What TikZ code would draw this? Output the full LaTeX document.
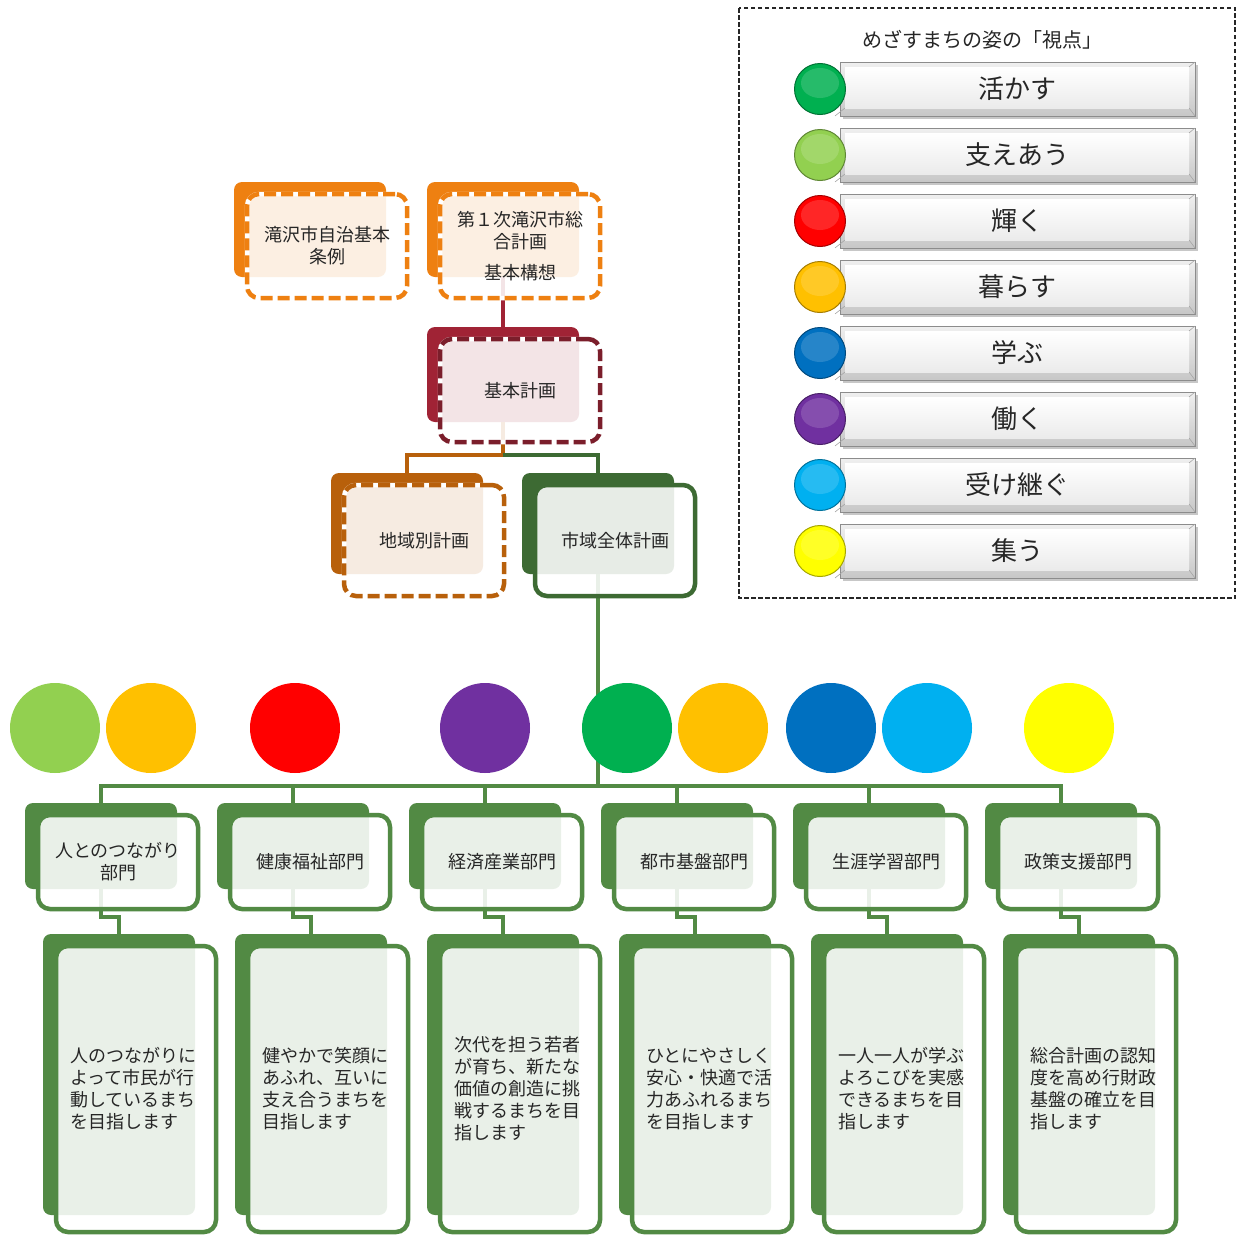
\documentclass[tikz,border=0pt]{standalone}
\usepackage{fontspec}
\setmainfont{Noto Sans CJK JP}
\definecolor{txt}{HTML}{262626}
\definecolor{oback}{HTML}{EE8011}
\definecolor{rback}{HTML}{A02335}
\definecolor{rline}{HTML}{7B1E2B}
\definecolor{bback}{HTML}{B8600B}
\definecolor{gback}{HTML}{3D6A33}
\definecolor{kback}{HTML}{528A44}
\definecolor{cLG}{HTML}{92D050}
\definecolor{cAM}{HTML}{FFC000}
\definecolor{cRD}{HTML}{FF0000}
\definecolor{cPU}{HTML}{7030A0}
\definecolor{cGR}{HTML}{00B050}
\definecolor{cBL}{HTML}{0070C0}
\definecolor{cCY}{HTML}{00B0F0}
\definecolor{cYE}{HTML}{FFFF00}
\newcommand\mf{\fontsize{18}{22}\selectfont}
\newcommand\lf{\fontsize{26}{28}\selectfont}
\tikzset{
  backbox/.style={rounded corners=8pt, minimum width=152pt, inner sep=0pt, outer sep=0pt},
  frontbox/.style={rounded corners=12pt, minimum width=160pt, inner sep=0pt, line width=4.5pt,
    fill=white, fill opacity=0.88, text opacity=1, align=center, font=\mf, text=txt},
  dashedline/.style={dash pattern=on 12pt off 5pt, preaction={draw=white, solid, line width=4.5pt}},
  solidline/.style={},
  conn/.style={line width=4pt},
}
\newcommand\mkback[5]{\node[backbox, fill=#5, minimum height=#4pt] (#1) at ({#2+76},{#3+#4/2}) {};}
\newcommand\mkfront[8]{\node[frontbox, draw=#5, #6, minimum height=#4pt, #7] (#1) at ({#2+93},{#3+12+#4/2}) {#8};}
\begin{document}
\begin{tikzpicture}[x=1pt,y=-1pt]
\fill[white] (0,0) rectangle (1239,1234);
\useasboundingbox (0,0) rectangle (1239,1234);

% ---------- back shapes ----------
\mkback{b1b}{234}{182}{95}{oback}
\mkback{b2b}{427}{182}{95}{oback}
\mkback{rb}{427}{327}{95}{rback}
\mkback{lb}{331}{473}{101}{bback}
\mkback{sb}{522}{473}{101}{gback}
\foreach \i in {1,...,6}{
  \mkback{d\i b}{25+192*(\i-1)}{803}{86}{kback}
  \mkback{t\i b}{43+192*(\i-1)}{934}{281}{kback}
}

% ---------- connectors ----------
\coordinate (bus) at (598,786);
\draw[conn, rback] (b2b.south) -- (rb.north);
\draw[conn, bback] (rb.south) -- ++(0,33) -| (lb.north);
\draw[conn, gback] (rb.south) ++(0,33) -| (sb.north);
\draw[conn, kback] (sb.south) -- (sb.south |- bus);
\draw[conn, kback] (d1b.north) -- (d1b.north |- bus) -- (d6b.north |- bus) -- (d6b.north);
\foreach \i in {2,...,5}{\draw[conn, kback] (d\i b.north |- bus) -- (d\i b.north);}
\foreach \i in {1,...,6}{\draw[conn, kback] (d\i b.south) -- ++(0,28) -| (t\i b.north);}

% ---------- front shapes ----------
\mkfront{b1}{234}{182}{104}{oback}{dashedline}{}{滝沢市自治基本\\条例}
\mkfront{b2}{427}{182}{104}{oback}{dashedline}{}{第１次滝沢市総\\合計画\\[9pt]基本構想}
\mkfront{r}{427}{327}{103}{rline}{dashedline}{}{基本計画}
\mkfront{l}{331}{473}{111}{bback}{dashedline}{}{地域別計画}
\mkfront{s}{522}{473}{111}{gback}{solidline}{}{市域全体計画}

\foreach \i/\t in {1/{人とのつながり\\部門},2/健康福祉部門,3/経済産業部門,4/都市基盤部門,5/生涯学習部門,6/政策支援部門}{
  \mkfront{d\i}{25+192*(\i-1)}{803}{94}{kback}{solidline}{}{\t}
}
\foreach \i/\t in {
 1/{人のつながりに\\よって市民が行\\動しているまち\\を目指します},
 2/{健やかで笑顔に\\あふれ、互いに\\支え合うまちを\\目指します},
 3/{次代を担う若者\\が育ち、新たな\\価値の創造に挑\\戦するまちを目\\指します},
 4/{ひとにやさしく\\安心・快適で活\\力あふれるまち\\を目指します},
 5/{一人一人が学ぶ\\よろこびを実感\\できるまちを目\\指します},
 6/{総合計画の認知\\度を高め行財政\\基盤の確立を目\\指します}}{
  \mkfront{t\i}{43+192*(\i-1)}{934}{286}{kback}{solidline}{text width=132pt, align=left}{\t}
}

% ---------- big circles ----------
\foreach \x/\col [count=\i] in {55/cLG,151/cAM,295/cRD,485/cPU,627/cGR,723/cAM,831/cBL,927/cCY,1069/cYE}{
  \node[circle, fill=\col, minimum size=90pt, inner sep=0pt] (big\i) at (\x,728) {};
}

% ---------- legend ----------
\draw[black!85, line width=1.4pt, dash pattern=on 4.5pt off 2.5pt] (739,8) rectangle (1235,598);
\node[font=\fontsize{20}{22}\selectfont, text=txt] (title) at (982,40) {めざすまちの姿の「視点」};
\foreach \col/\t [count=\i] in {cGR/活かす,cLG/支えあう,cRD/輝く,cAM/暮らす,cBL/学ぶ,cPU/働く,cCY/受け継ぐ,cYE/集う}{
  \pgfmathsetmacro\yy{89+66*(\i-1)}
  \fill[black!22] (843,\yy-24) rectangle (1198,\yy+30);
  \shade[top color=black!6, bottom color=black!22, draw=black!45, line width=0.8pt] (840,\yy-27) rectangle (1195,\yy+27);
  \shade[top color=white, bottom color=black!8] (845,\yy-22) rectangle (1189,\yy+19);
  \draw[black!35, line width=0.6pt] (1195,\yy-27) -- (1189,\yy-22) (1195,\yy+27) -- (1189,\yy+19) (835,\yy+27) -- (845,\yy+19);
  \node[font=\lf, text=txt] (leg\i) at (1017.5,\yy) {\t};
  \node[circle, fill=\col, draw=\col!65!black, line width=1pt, minimum size=51pt, inner sep=0pt] (dot\i) at (820,\yy) {};
  \fill[white, opacity=0.15] (820,\yy-6) ellipse (19pt and 15pt);
}
\end{tikzpicture}
\end{document}
